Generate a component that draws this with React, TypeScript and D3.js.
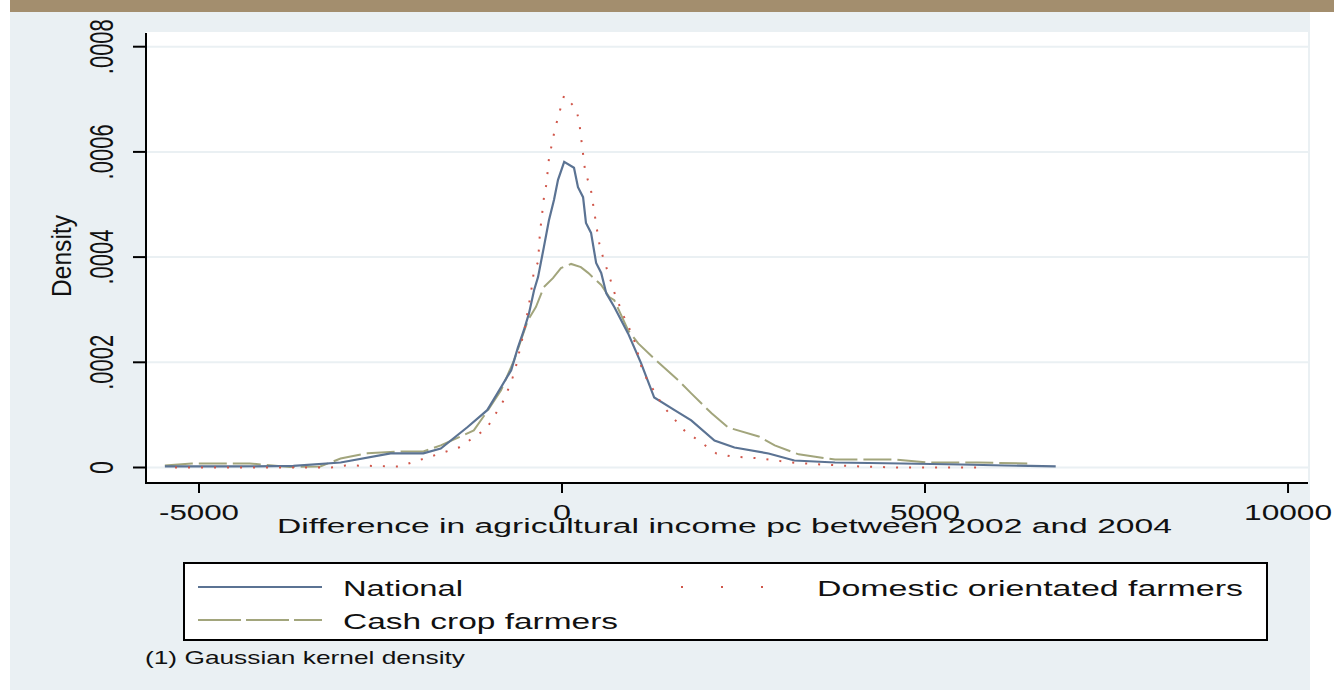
import * as d3 from "d3";

// Difference in agricultural income pc (x) vs. kernel density (y)
const nationalX = [-5470, -4500, -3700, -3050, -2360, -1910, -1670, -1300, -1030, -890, -700, -610, -525, -455, -385, -330, -250, -180, -110, -55, 30, 165, 220, 290, 330, 400, 470, 540, 610, 720, 910, 1090, 1270, 1550, 1780, 2100, 2375, 2845, 3200, 3760, 4680, 5500, 6100, 6800];
const nationalY = [0.000002, 0.000002, 0.000003, 0.0000095, 0.000027, 0.000027, 0.000036, 0.000077, 0.000109, 0.000141, 0.000185, 0.000227, 0.000261, 0.000293, 0.000337, 0.000362, 0.000419, 0.00047, 0.000509, 0.000547, 0.000581, 0.00057, 0.000533, 0.000514, 0.000465, 0.000446, 0.000389, 0.00037, 0.000331, 0.000305, 0.000255, 0.000198, 0.000133, 0.000109, 0.0000895, 0.0000514, 0.0000381, 0.0000267, 0.0000133, 0.0000095, 0.0000076, 0.0000057, 0.0000038, 0.000002];

const domesticX = [-5330, -4250, -3180, -2980, -2240, -1420, -1040, -910, -790, -680, -635, -510, -430, -390, -330, -305, -250, -215, -180, -97, -55, -14, 28, 193, 235, 276, 318, 400, 483, 525, 635, 690, 732, 856, 981, 1063, 1105, 1188, 1271, 1395, 1685, 2127, 2334, 2748, 3162, 3577, 4102, 4640, 5720];
const domesticY = [0, 0, 0, 0.000004, 0.000002, 0.000038, 0.000074, 0.000103, 0.000131, 0.000171, 0.000192, 0.000267, 0.00033, 0.00037, 0.000391, 0.000444, 0.000512, 0.000539, 0.000587, 0.000644, 0.000665, 0.000686, 0.000707, 0.000682, 0.000659, 0.000612, 0.000564, 0.000526, 0.000451, 0.000417, 0.00037, 0.000347, 0.000328, 0.000286, 0.000248, 0.000208, 0.000185, 0.000163, 0.000145, 0.000116, 0.0000705, 0.0000267, 0.000021, 0.0000171, 0.0000095, 0.0000057, 0.0000019, 0, 0];

const cashX = [-5470, -5100, -4300, -3750, -3330, -3050, -2680, -2220, -1910, -1670, -1215, -1020, -840, -660, -565, -470, -360, -250, -125, -15, 125, 260, 360, 470, 540, 650, 720, 910, 1050, 1325, 1600, 1780, 2060, 2290, 2710, 2930, 3260, 3760, 4590, 5030, 5720, 6480];
const cashY = [0.000004, 0.0000076, 0.0000076, 0.000001, 0.000002, 0.000017, 0.000027, 0.0000305, 0.0000305, 0.000042, 0.0000705, 0.000109, 0.000147, 0.000204, 0.000242, 0.00028, 0.000305, 0.000343, 0.00036, 0.000379, 0.000387, 0.000381, 0.00037, 0.000356, 0.000347, 0.000324, 0.000318, 0.000261, 0.000236, 0.0002, 0.000166, 0.000141, 0.000103, 0.000076, 0.000059, 0.000042, 0.000025, 0.000015, 0.000015, 0.0000095, 0.0000095, 0.0000076];

const xTicks = [-5000, 0, 5000, 10000];
const xTickLabels = ["-5000", "0", "5000", "10000"];
const xTickLens = [80, 18, 70, 88];
const yTicks = [0, 0.0002, 0.0004, 0.0006, 0.0008];
const yTickLabels = ["0", ".0002", ".0004", ".0006", ".0008"];

const FONT = "'Liberation Sans', Arial, sans-serif";

export default function App() {
  const width = 1334;
  const height = 690;
  const plot = { left: 146, right: 1308, top: 32, bottom: 483 };

  const x = d3.scaleLinear().domain([-5730, 10275]).range([plot.left, plot.right]);
  const y = d3.scaleLinear().domain([0, 0.0008]).range([467.5, 46.7]);

  const line = d3
    .line<[number, number]>()
    .x((d) => x(d[0]))
    .y((d) => y(d[1]));

  const national = line(nationalX.map((v, i) => [v, nationalY[i]])) || "";
  const domestic = line(domesticX.map((v, i) => [v, domesticY[i]])) || "";
  const cash = line(cashX.map((v, i) => [v, cashY[i]])) || "";

  const blue = "#5b7393";
  const olive = "#a2a57c";
  const red = "#d0564a";

  return (
    <svg
      width={width}
      height={height}
      style={{ position: "absolute", left: 0, top: 0, display: "block" }}
      fontFamily={FONT}
    >
      <rect x={0} y={0} width={width} height={height} fill="#ffffff" />
      <rect x={10} y={12} width={1300} height={678} fill="#eaf0f3" />
      <rect x={10} y={0} width={1324} height={12} fill="#a38e6e" />

      {/* plot region */}
      <rect x={plot.left} y={plot.top} width={plot.right - plot.left} height={plot.bottom - plot.top} fill="#ffffff" />
      {yTicks.map((t) => (
        <line key={t} x1={plot.left} x2={plot.right} y1={y(t)} y2={y(t)} stroke="#eaf0f3" strokeWidth={2} />
      ))}

      {/* curves */}
      <path d={cash} fill="none" stroke={olive} strokeWidth={2} strokeDasharray="28 6" />
      <path d={national} fill="none" stroke={blue} strokeWidth={2.2} />
      <path d={domestic} fill="none" stroke={red} strokeWidth={2} strokeDasharray="2 11" />

      {/* axes */}
      <line x1={plot.left} x2={plot.left} y1={plot.top + 1} y2={plot.bottom + 1} stroke="#000" strokeWidth={2} />
      <line x1={plot.left - 1} x2={plot.right} y1={plot.bottom} y2={plot.bottom} stroke="#000" strokeWidth={2} />
      {yTicks.map((t, i) => (
        <g key={t}>
          <line x1={plot.left - 13} x2={plot.left} y1={y(t)} y2={y(t)} stroke="#000" strokeWidth={2} />
          <text
            transform={`translate(113,${y(t)}) rotate(-90)`}
            textAnchor="middle"
            fontSize={34}
            textLength={yTickLabels[i].length === 1 ? 13 : 55}
            lengthAdjust="spacingAndGlyphs"
            fill="#111"
          >
            {yTickLabels[i]}
          </text>
        </g>
      ))}
      <text
        transform="translate(71,256) rotate(-90)"
        textAnchor="middle"
        fontSize={27}
        textLength={82}
        lengthAdjust="spacingAndGlyphs"
        fill="#111"
      >
        Density
      </text>

      {xTicks.map((t, i) => (
        <g key={t}>
          <line x1={x(t)} x2={x(t)} y1={plot.bottom} y2={plot.bottom + 10} stroke="#000" strokeWidth={2} />
          <text
            x={x(t)}
            y={520}
            textAnchor="middle"
            fontSize={21.5}
            textLength={xTickLens[i]}
            lengthAdjust="spacingAndGlyphs"
            fill="#111"
          >
            {xTickLabels[i]}
          </text>
        </g>
      ))}
      <text x={277} y={533} fontSize={19.5} textLength={895} lengthAdjust="spacingAndGlyphs" fill="#111">
        Difference in agricultural income pc between 2002 and 2004
      </text>

      {/* legend */}
      <rect x={184} y={563} width={1083} height={77} fill="#ffffff" stroke="#000" strokeWidth={2} />
      <line x1={198} x2={322} y1={587} y2={587} stroke={blue} strokeWidth={2} />
      <text x={343} y={596} fontSize={22} textLength={120} lengthAdjust="spacingAndGlyphs" fill="#111">
        National
      </text>
      <line x1={681} x2={765} y1={587} y2={587} stroke={red} strokeWidth={2} strokeDasharray="2 38" />
      <text x={817} y={596} fontSize={22} textLength={426} lengthAdjust="spacingAndGlyphs" fill="#111">
        Domestic orientated farmers
      </text>
      <line x1={198} x2={322} y1={620} y2={620} stroke={olive} strokeWidth={2} strokeDasharray="43 5" />
      <text x={343} y={629} fontSize={22} textLength={275} lengthAdjust="spacingAndGlyphs" fill="#111">
        Cash crop farmers
      </text>

      <text x={145} y={664} fontSize={19} textLength={320} lengthAdjust="spacingAndGlyphs" fill="#111">
        (1) Gaussian kernel density
      </text>
    </svg>
  );
}
